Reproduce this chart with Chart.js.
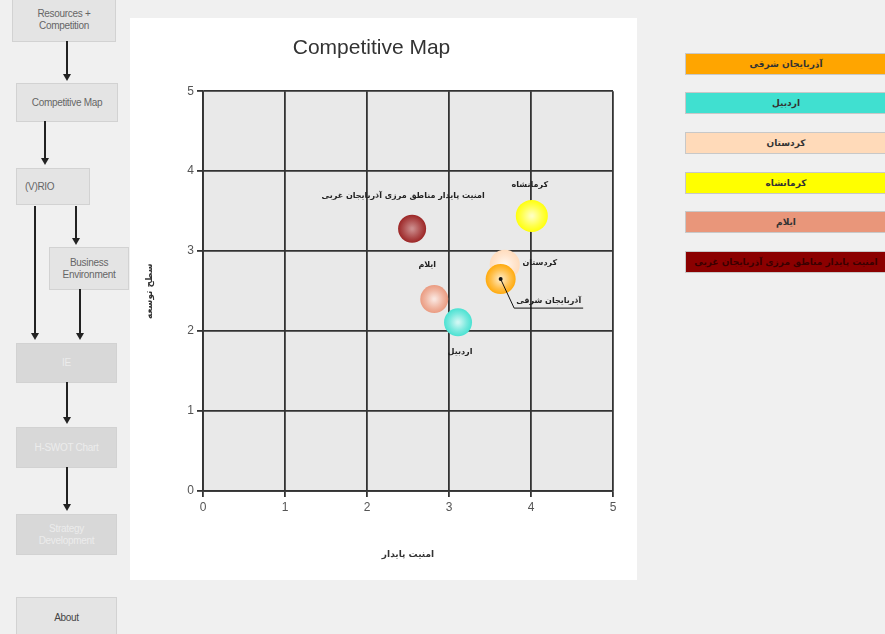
<!DOCTYPE html>
<html>
<head>
<meta charset="utf-8">
<script src="https://cdn.jsdelivr.net/npm/chart.js@4/dist/chart.umd.min.js"></script>
<style>
  body { margin: 0; width: 885px; height: 634px; background: #f0f0f0; position: relative; overflow: hidden; font-family: "Liberation Sans", Arial, sans-serif; }
  .box { position: absolute; background: #e4e4e4; border: 1px solid #d2d2d2; color: #666; font-size: 10px; text-align: center; display: flex; align-items: center; justify-content: center; line-height: 12px; letter-spacing: -0.3px; }
  .box.off { background: #d8d8d8; color: #ececec; }
  #panel { position: absolute; left: 130px; top: 18px; width: 507px; height: 562px; background: #fff; }
  #legend .item { position: absolute; left: 685px; width: 200px; height: 20px; border: 1px solid #c8c8c8; font: bold 9px "DejaVu Sans", sans-serif; text-align: center; line-height: 20px; color: #333; direction: rtl; }
  svg { position: absolute; left: 0; top: 0; }
</style>
</head>
<body>
<div class="box" style="left:12px;top:-2px;width:102px;height:42px;">Resources +<br>Competition</div>
<div class="box" style="left:16px;top:83px;width:100px;height:37px;">Competitive Map</div>
<div class="box" style="left:16px;top:168px;width:74px;height:37px;justify-content:flex-start;padding-left:8px;box-sizing:border-box;">(V)RIO</div>
<div class="box" style="left:49px;top:247px;width:78px;height:41px;">Business<br>Environment</div>
<div class="box off" style="left:16px;top:343px;width:99px;height:38px;">IE</div>
<div class="box off" style="left:16px;top:427px;width:99px;height:39px;">H-SWOT Chart</div>
<div class="box off" style="left:16px;top:514px;width:99px;height:39px;">Strategy<br>Development</div>
<div class="box" style="left:16px;top:597px;width:99px;height:40px;color:#444;">About</div>

<svg width="130" height="634">
  <g stroke="#222" stroke-width="2" fill="none">
    <line x1="67" y1="41" x2="67" y2="74"/>
    <path d="M63,74 L71,74 L67,81 z" fill="#222" stroke="none"/>
    <line x1="45" y1="121" x2="45" y2="158"/>
    <path d="M41,158 L49,158 L45,165 z" fill="#222" stroke="none"/>
    <line x1="35" y1="206" x2="35" y2="333"/>
    <path d="M31,333 L39,333 L35,340 z" fill="#222" stroke="none"/>
    <line x1="76" y1="206" x2="76" y2="238"/>
    <path d="M72,238 L80,238 L76,245 z" fill="#222" stroke="none"/>
    <line x1="80" y1="289" x2="80" y2="333"/>
    <path d="M76,333 L84,333 L80,340 z" fill="#222" stroke="none"/>
    <line x1="67" y1="382" x2="67" y2="417"/>
    <path d="M63,417 L71,417 L67,424 z" fill="#222" stroke="none"/>
    <line x1="67" y1="467" x2="67" y2="504"/>
    <path d="M63,504 L71,504 L67,511 z" fill="#222" stroke="none"/>
  </g>
</svg>

<div id="panel"><canvas id="myChart" width="507" height="562"></canvas></div>
<div id="legend"></div>

<script>
const provinces = ['آذربایجان شرقی', 'اردبیل', 'کردستان', 'کرمانشاه', 'ایلام', 'امنیت پایدار مناطق مرزی آذربایجان غربی'];
const legendNames = ['آذربایجان شرقی', 'اردبیل', 'کردستان', 'کرمانشاه', 'ایلام', 'امنیت پایدار مناطق مرزی آذربایجان غربی'];
const colors = ['#ffa500', '#40e0d0', '#ffdab9', '#ffff00', '#e9967a', '#8b0000'];
const xValues = [3.63, 3.11, 3.68, 4.01, 2.82, 2.55];
const yValues = [2.65, 2.11, 2.83, 3.44, 2.40, 3.28];
const xTitle = 'امنیت پایدار';
const yTitle = 'سطح توسعه';

// label offsets (px) relative to bubble centre
const labelOffsets = [[48, 22], [2, 30], [35, -2], [-2, -31], [-7, -34], [-9, -33]];
const bubbleSizes = [15, 14, 15, 16, 14, 14];
const legendTops = [53, 92, 132, 172, 211, 251];

// right legend
const legend = document.getElementById('legend');
legendNames.forEach(function(name, i) {
  const d = document.createElement('div');
  d.className = 'item';
  d.style.top = legendTops[i] + 'px';
  d.style.background = colors[i];
  if (i === 5) d.style.color = '#3a0000';
  d.textContent = name;
  legend.appendChild(d);
});

function lighten(hex, t) {
  const n = parseInt(hex.slice(1), 16);
  const r = n >> 16, g = (n >> 8) & 255, b = n & 255;
  const m = function(c) { return Math.round(c + (255 - c) * t); };
  return 'rgb(' + m(r) + ',' + m(g) + ',' + m(b) + ')';
}

const datasets = provinces.map(function(name, i) {
  return {
    label: name,
    data: [{x: xValues[i], y: yValues[i]}],
    radius: bubbleSizes[i],
    borderWidth: 0,
    backgroundColor: function(ctx) {
      const chart = ctx.chart;
      if (!chart.chartArea || !ctx.parsed) return colors[i];
      const px = chart.scales.x.getPixelForValue(ctx.parsed.x);
      const py = chart.scales.y.getPixelForValue(ctx.parsed.y);
      const r = bubbleSizes[i];
      const g = chart.ctx.createRadialGradient(px, py, 1, px, py, r);
      g.addColorStop(0, lighten(colors[i], i === 5 ? 0.55 : 0.75));
      g.addColorStop(0.6, lighten(colors[i], 0.3));
      g.addColorStop(1, lighten(colors[i], i === 5 ? 0.15 : 0.05));
      return g;
    }
  };
});

const plotBg = {
  id: 'plotBg',
  beforeDraw: function(chart) {
    const a = chart.chartArea, c = chart.ctx;
    c.save();
    c.fillStyle = '#e9e9e9';
    c.fillRect(a.left, a.top, a.right - a.left, a.bottom - a.top);
    c.restore();
  }
};

const pointLabels = {
  id: 'pointLabels',
  afterDatasetsDraw: function(chart) {
    const c = chart.ctx;
    c.save();
    c.font = 'bold 8px "DejaVu Sans", sans-serif';
    c.fillStyle = '#222';
    c.textAlign = 'center';
    c.textBaseline = 'middle';
    c.direction = 'rtl';
    chart.data.datasets.forEach(function(ds, i) {
      const el = chart.getDatasetMeta(i).data[0];
      const tx = el.x + labelOffsets[i][0], ty = el.y + labelOffsets[i][1];
      if (i === 0) {
        // leader line with underline
        const w = c.measureText(ds.label).width;
        c.strokeStyle = '#111';
        c.lineWidth = 1;
        c.beginPath();
        c.moveTo(el.x, el.y);
        c.lineTo(tx - w / 2 - 2, ty + 7);
        c.lineTo(tx + w / 2 + 2, ty + 7);
        c.stroke();
        c.fillStyle = '#111';
        c.beginPath();
        c.arc(el.x, el.y, 2, 0, Math.PI * 2);
        c.fill();
        c.fillStyle = '#222';
      }
      c.fillText(ds.label, tx, ty);
    });
    c.restore();
  }
};

const axisFont = {family: '"Liberation Sans", Arial, sans-serif', size: 12};

const config = {
  type: 'bubble',
  data: {datasets: datasets},
  options: {
    responsive: false,
    animation: false,
    layout: {padding: {left: 0, right: 24, top: 0, bottom: 0}},
    plugins: {
      legend: {display: false},
      tooltip: {enabled: false},
      title: {
        display: true,
        text: 'Competitive Map',
        color: '#333',
        font: {family: '"Liberation Sans", Arial, sans-serif', size: 21, weight: 'normal'},
        padding: {top: 18, bottom: 30}
      }
    },
    scales: {
      x: {
        type: 'linear', min: 0, max: 5,
        ticks: {stepSize: 1, color: '#555', font: axisFont, padding: 3},
        grid: {color: '#333', lineWidth: 1.8, tickLength: 6},
        border: {color: '#333', width: 1.8},
        title: {display: true, text: xTitle, color: '#333', font: {family: '"DejaVu Sans", sans-serif', size: 9, weight: 'bold'}, padding: {top: 0, bottom: 20}},
        afterFit: function(scale) { scale.height = 89; }
      },
      y: {
        type: 'linear', min: 0, max: 5,
        ticks: {stepSize: 1, color: '#555', font: axisFont, padding: 3},
        grid: {color: '#333', lineWidth: 1.8, tickLength: 6},
        border: {color: '#333', width: 1.8},
        title: {display: true, text: yTitle, color: '#333', font: {family: '"DejaVu Sans", sans-serif', size: 9, weight: 'bold'}, padding: {top: 14, bottom: 0}},
        afterFit: function(scale) { scale.width = 73; }
      }
    }
  },
  plugins: [plotBg, pointLabels]
};

const myChart = new Chart(document.getElementById('myChart'), config);
</script>
</body>
</html>
